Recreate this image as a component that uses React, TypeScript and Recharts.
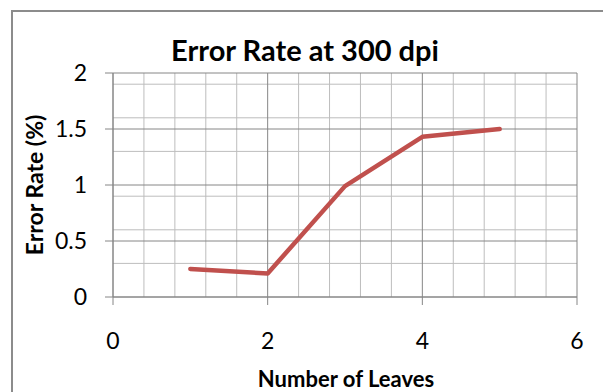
import React from "react";
import { LineChart, Line, XAxis, YAxis, CartesianGrid } from "recharts";

const leaves = [1, 2, 3, 4, 5];
const errorRate = [0.25, 0.21, 0.99, 1.43, 1.5];
const xTicks = [0, 2, 4, 6];
const yTicks = [0, 0.5, 1, 1.5, 2];
const xMinor = [0.4, 0.8, 1.2, 1.6, 2.4, 2.8, 3.2, 3.6, 4.4, 4.8, 5.2, 5.6];
const yMinor = [0.1, 0.2, 0.3, 0.4, 0.6, 0.7, 0.8, 0.9, 1.1, 1.2, 1.3, 1.4, 1.6, 1.7, 1.8, 1.9];

const data = leaves.map((x, i) => ({ x, y: errorRate[i] }));

const FONT = "Lato, 'Open Sans', sans-serif";
const AXIS = "#868686";

export default function App() {
  return (
    <div style={{ position: "absolute", left: 0, top: 0, width: 603, height: 392, overflow: "hidden", background: "#fff", fontFamily: FONT }}>
      <div style={{ position: "absolute", left: 11, top: 10, width: 700, height: 500, borderLeft: "2px solid #8c8c8c", borderTop: "2px solid #8c8c8c" }} />
      <div style={{ position: "absolute", left: 0, top: 0 }}>
        <LineChart width={603} height={392} data={data} margin={{ top: 73, right: 26, left: 0, bottom: 0 }}>
          <CartesianGrid stroke="#bdbdbd" strokeWidth={1} horizontalValues={yMinor} verticalValues={xMinor} />
          <CartesianGrid stroke={AXIS} strokeWidth={1} horizontalValues={yTicks} verticalValues={xTicks} />
          <XAxis
            dataKey="x"
            type="number"
            domain={[0, 6]}
            ticks={xTicks}
            height={95}
            tickSize={8}
            tickMargin={28}
            axisLine={{ stroke: AXIS }}
            tickLine={{ stroke: AXIS }}
            tick={{ fill: "#000", fontSize: 23, fontFamily: FONT }}
          />
          <YAxis
            type="number"
            domain={[0, 2]}
            ticks={yTicks}
            width={113}
            tickSize={8}
            tickMargin={18}
            axisLine={{ stroke: AXIS }}
            tickLine={{ stroke: AXIS }}
            tick={{ fill: "#000", fontSize: 23, fontFamily: FONT }}
          />
          <Line
            type="linear"
            dataKey="y"
            stroke="#c0504d"
            strokeWidth={4.5}
            strokeLinecap="round"
            strokeLinejoin="round"
            dot={false}
            isAnimationActive={false}
          />
        </LineChart>
      </div>
      <div style={{ position: "absolute", left: 305, top: 35, transform: "translateX(-50%)", whiteSpace: "nowrap", fontSize: 29, lineHeight: 1, fontWeight: 700, color: "#000" }}>
        Error Rate at 300 dpi
      </div>
      <div style={{ position: "absolute", left: 346, top: 368, transform: "translateX(-50%)", whiteSpace: "nowrap", fontSize: 22, lineHeight: 1, fontWeight: 700, color: "#000" }}>
        Number of Leaves
      </div>
      <div style={{ position: "absolute", left: 34, top: 185, transform: "translate(-50%, -50%) rotate(-90deg)", whiteSpace: "nowrap", fontSize: 23, lineHeight: 1, fontWeight: 700, color: "#000" }}>
        Error Rate (%)
      </div>
    </div>
  );
}
